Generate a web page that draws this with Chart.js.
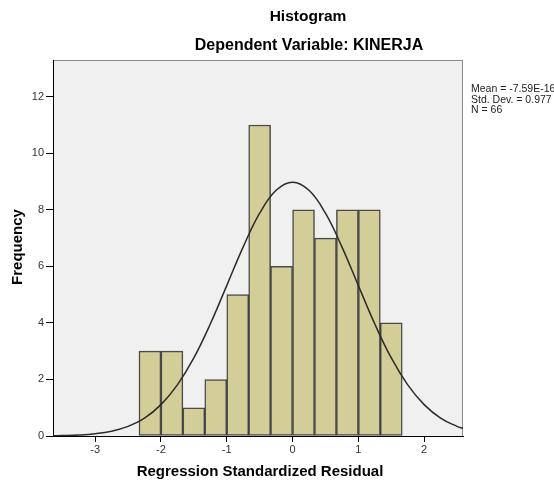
<!DOCTYPE html>
<html>
<head>
<meta charset="utf-8">
<script src="https://cdn.jsdelivr.net/npm/chart.js@4/dist/chart.umd.min.js"></script>
<style>
  html, body { margin: 0; padding: 0; background: #fff; }
  #wrap { width: 554px; height: 482px; }
</style>
</head>
<body>
<div id="wrap"><canvas id="histChart" width="554" height="482"></canvas></div>
<script>
// bin centers (bin width 1/3) and counts
const binCenters = [-2.167, -1.833, -1.5, -1.167, -0.833, -0.5, -0.167, 0.167, 0.5, 0.833, 1.167, 1.5];
const binCounts = [3, 3, 1, 2, 5, 11, 6, 8, 7, 8, 8, 4];

// normal curve
const curveX = [-3.64, -3.5, -3.25, -3, -2.75, -2.5, -2.25, -2, -1.75, -1.5, -1.25, -1, -0.75, -0.5, -0.25, 0,
                0.25, 0.5, 0.75, 1, 1.25, 1.5, 1.75, 2, 2.25, 2.5, 2.59];
const curveY = [0.01, 0.015, 0.035, 0.08, 0.17, 0.34, 0.63, 1.11, 1.81, 2.76, 3.96, 5.32, 6.69, 7.88, 8.69, 8.98,
                8.69, 7.88, 6.69, 5.32, 3.96, 2.76, 1.81, 1.11, 0.63, 0.34, 0.27];

const statLines = ['Mean = -7.59E-16', 'Std. Dev. = 0.977', 'N = 66'];
const titleText = 'Histogram';
const subtitleText = 'Dependent Variable: KINERJA';
const xTitle = 'Regression Standardized Residual';
const yTitle = 'Frequency';

const FONT = 'Arial, "Liberation Sans", sans-serif';

const decorPlugin = {
    id: 'decor',
    beforeDraw(chart) {
        const { ctx, chartArea: a } = chart;
        ctx.save();
        ctx.fillStyle = '#f0f0f0';
        ctx.fillRect(a.left, a.top, a.right - a.left, a.bottom - a.top);
        ctx.strokeStyle = '#8a8a8a';
        ctx.lineWidth = 1;
        ctx.strokeRect(a.left + 0.5, a.top + 0.5, a.right - a.left - 1, a.bottom - a.top);
        ctx.restore();
    },
    afterDraw(chart) {
        const { ctx, chartArea: a } = chart;
        ctx.save();
        ctx.fillStyle = '#000';
        ctx.textAlign = 'center';
        ctx.textBaseline = 'middle';
        ctx.font = 'bold 15.5px ' + FONT;
        ctx.fillText(titleText, 308, 17);
        ctx.font = 'bold 16px ' + FONT;
        ctx.fillText(subtitleText, 309, 46);

        ctx.font = 'bold 15px ' + FONT;
        ctx.fillText(xTitle, 260, 472);
        ctx.translate(18, 247);
        ctx.rotate(-Math.PI / 2);
        ctx.fillText(yTitle, 0, 0);
        ctx.restore();

        ctx.save();
        ctx.fillStyle = '#222';
        ctx.font = '10.5px ' + FONT;
        ctx.textAlign = 'left';
        ctx.textBaseline = 'alphabetic';
        statLines.forEach((s, i) => ctx.fillText(s, a.right + 8, 92 + i * 10.5));
        ctx.restore();
    }
};

new Chart(document.getElementById('histChart'), {
    type: 'bar',
    data: {
        datasets: [
            {
                type: 'line',
                data: curveX.map((x, i) => ({ x: x, y: curveY[i] })),
                borderColor: '#2b2b2b',
                borderWidth: 1.5,
                pointRadius: 0,
                tension: 0.4,
                fill: false,
                order: 0
            },
            {
                type: 'bar',
                data: binCenters.map((x, i) => ({ x: x, y: binCounts[i] })),
                backgroundColor: '#d3ce97',
                borderColor: 'rgba(45,45,45,0.85)',
                borderWidth: 1.5,
                borderSkipped: false,
                barPercentage: 1,
                categoryPercentage: 1,
                grouped: false,
                order: 1
            }
        ]
    },
    options: {
        responsive: false,
        animation: false,
        layout: { padding: { top: 60, right: 91, left: 0, bottom: 0 } },
        plugins: {
            legend: { display: false },
            tooltip: { enabled: false }
        },
        scales: {
            x: {
                type: 'linear',
                min: -3.64,
                max: 2.59,
                offset: false,
                grid: { drawOnChartArea: false, tickLength: 6, tickColor: '#000', offset: false },
                border: { color: '#000' },
                ticks: {
                    stepSize: 1,
                    includeBounds: false,
                    padding: 1,
                    color: '#333',
                    font: { size: 11, family: FONT }
                },
                afterFit(scale) { scale.height = 46; }
            },
            y: {
                min: 0,
                max: 13.3,
                grid: { drawOnChartArea: false, tickLength: 7, tickColor: '#000' },
                border: { color: '#000' },
                ticks: {
                    stepSize: 2,
                    includeBounds: false,
                    padding: 2,
                    color: '#333',
                    font: { size: 11, family: FONT }
                },
                afterFit(scale) { scale.width = 53; }
            }
        }
    },
    plugins: [decorPlugin]
});
</script>
</body>
</html>
